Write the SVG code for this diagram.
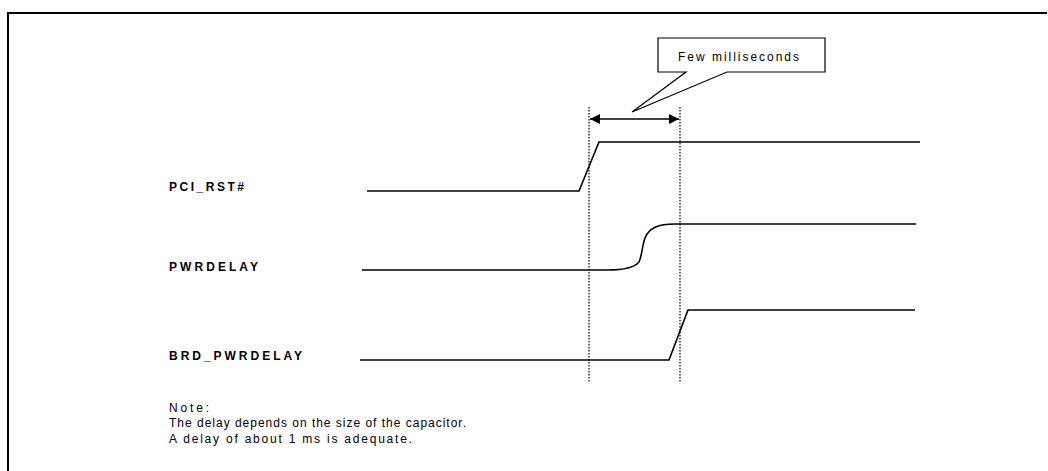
<svg xmlns="http://www.w3.org/2000/svg" width="1048" height="471" viewBox="0 0 1048 471">
<style>
.sig{fill:none;stroke:#000;stroke-width:1.6;stroke-linejoin:miter}
.dot{fill:none;stroke:#000;stroke-width:1.2;stroke-dasharray:1.5,1.5}
.lbl{font-family:"Liberation Sans",Arial,sans-serif;font-size:12px;font-weight:bold;fill:#000}
.note{font-family:"Liberation Sans",Arial,sans-serif;font-size:12px;fill:#000}
</style>
<defs>
<marker id="ah" viewBox="0 0 10 10" refX="10" refY="5" markerWidth="14" markerHeight="10" markerUnits="userSpaceOnUse" orient="auto-start-reverse">
<path d="M0,0 L10,5 L0,10 z" fill="#000"/>
</marker>
</defs>
<rect width="1048" height="471" fill="#fff"/>
<g id="frame">
<path d="M8,480 L8,13 L1047,13" fill="none" stroke="#000" stroke-width="2"/>
</g>
<g id="callout">
<path d="M658,38 L825,38 L825,72 L727,72 L632,112 L686,72 L658,72 Z" fill="#fff" stroke="#000" stroke-width="1.2"/>
<text class="note" x="678" y="61" textLength="121" lengthAdjust="spacing">Few milliseconds</text>
</g>
<g id="labels">
<text class="lbl" x="169" y="191" textLength="75" lengthAdjust="spacing">PCI_RST#</text>
<text class="lbl" x="169" y="271" textLength="89" lengthAdjust="spacing">PWRDELAY</text>
<text class="lbl" x="169" y="360" textLength="133" lengthAdjust="spacing">BRD_PWRDELAY</text>
</g>
<g id="signals">
<path id="pci_rst" class="sig" d="M367,191 L579,191 L599,142 L920,142"/>
<path id="pwrdelay" class="sig" d="M362,270 L608,270 C622,270 634,268 639,262 C642,256 642,246 645,238 C649,228 658,224 675,224 L916,224"/>
<path id="brd_pwrdelay" class="sig" d="M360,360 L669,360 L688,310 L915,310"/>
</g>
<g id="connectors">
<line class="dot" x1="589" y1="107" x2="589" y2="382"/>
<line class="dot" x1="680" y1="107" x2="680" y2="382"/>
<line x1="590" y1="119" x2="679" y2="119" stroke="#000" stroke-width="1.4" marker-start="url(#ah)" marker-end="url(#ah)"/>
</g>
<g id="note">
<text class="note" x="169" y="412" textLength="40" lengthAdjust="spacing">Note:</text>
<text class="note" x="169" y="427" textLength="297" lengthAdjust="spacing">The delay depends on the size of the capacitor.</text>
<text class="note" x="169" y="443" textLength="243" lengthAdjust="spacing">A delay of about 1 ms is adequate.</text>
</g>
</svg>
